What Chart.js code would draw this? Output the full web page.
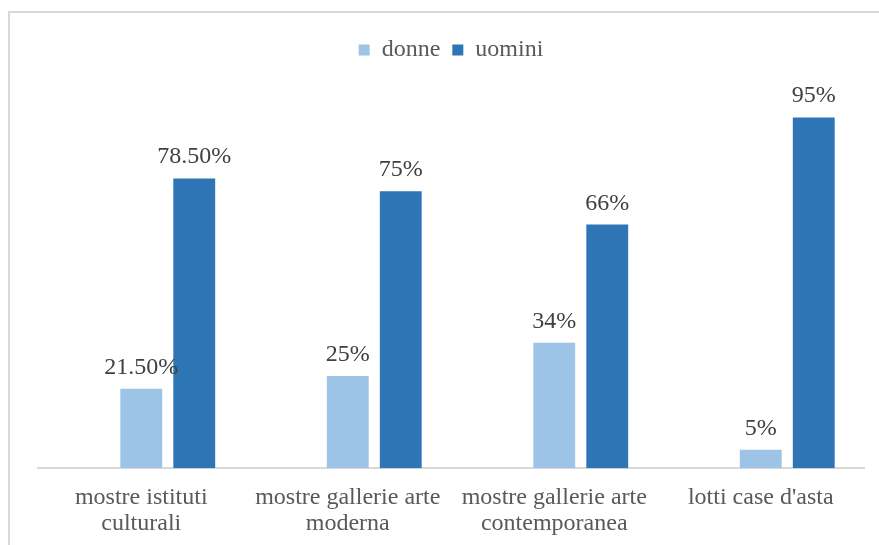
<!DOCTYPE html>
<html>
<head>
<meta charset="utf-8">
<script src="https://cdn.jsdelivr.net/npm/chart.js@4/dist/chart.umd.min.js"></script>
<style>
  html, body { margin: 0; padding: 0; background: #ffffff; }
  #wrap { position: relative; width: 879px; height: 545px; }
</style>
</head>
<body>
<div id="wrap"><canvas id="chart" width="879" height="545"></canvas></div>
<script>
// Categories (each label split over two lines where needed)
const categories = [
  ['mostre istituti', 'culturali'],
  ['mostre gallerie arte', 'moderna'],
  ['mostre gallerie arte', 'contemporanea'],
  ["lotti case d'asta"]
];
// Share of women and men, in percent
const donne = [21.5, 25, 34, 5];
const uomini = [78.5, 75, 66, 95];
// Empty leading series that keeps its slot in each group
const spacer = [null, null, null, null];

const FONT = "'Liberation Serif', 'Times New Roman', serif";
const FONT_SIZE = 24;

function pctLabel(v) {
  return Number.isInteger(v) ? v + '%' : v.toFixed(2) + '%';
}

// Frame lines along the top and left edge
const framePlugin = {
  id: 'frame',
  beforeInit(chart) {
    // leave extra room between the legend and the plot
    const legend = chart.legend;
    if (legend) {
      const fit = legend.fit;
      legend.fit = function () {
        fit.call(this);
        this.height += 27;
      };
    }
  },
  beforeDraw(chart) {
    const ctx = chart.ctx;
    ctx.save();
    ctx.fillStyle = '#ffffff';
    ctx.fillRect(0, 0, chart.width, chart.height);
    ctx.fillStyle = '#d9d9d9';
    ctx.fillRect(8, 11, chart.width - 8, 2);
    ctx.fillRect(8, 11, 2, chart.height - 11);
    ctx.restore();
  }
};

// Value labels above each bar
const valueLabels = {
  id: 'valueLabels',
  afterDatasetsDraw(chart) {
    const ctx = chart.ctx;
    ctx.save();
    ctx.font = FONT_SIZE + 'px ' + FONT;
    ctx.fillStyle = '#404040';
    ctx.textAlign = 'center';
    ctx.textBaseline = 'alphabetic';
    chart.data.datasets.forEach((ds, di) => {
      if (!ds.label) return;
      const meta = chart.getDatasetMeta(di);
      meta.data.forEach((bar, i) => {
        const v = ds.data[i];
        if (v == null) return;
        ctx.fillText(pctLabel(v), bar.x, bar.y - 15);
      });
    });
    ctx.restore();
  }
};

new Chart(document.getElementById('chart'), {
  type: 'bar',
  data: {
    labels: categories,
    datasets: [
      { label: '', data: spacer, backgroundColor: 'rgba(0,0,0,0)' },
      { label: 'donne', data: donne, backgroundColor: '#9dc3e6' },
      { label: 'uomini', data: uomini, backgroundColor: '#2e75b6' }
    ]
  },
  options: {
    responsive: false,
    animation: false,
    devicePixelRatio: 1,
    categoryPercentage: 0.77,
    barPercentage: 0.79,
    layout: { padding: { left: 38, right: 15, top: 26, bottom: 6 } },
    plugins: {
      legend: {
        position: 'top',
        labels: {
          filter: item => item.text !== '',
          boxWidth: 11,
          boxHeight: 11,
          padding: 12,
          color: '#595959',
          font: { family: FONT, size: FONT_SIZE }
        }
      },
      tooltip: { enabled: false }
    },
    scales: {
      x: {
        grid: { display: false, drawTicks: false },
        border: { display: true, color: '#d9d9d9', width: 2 },
        afterFit(scale) { scale.height -= 14; },
        ticks: {
          color: '#595959',
          padding: 16,
          maxRotation: 0,
          autoSkip: false,
          font: { family: FONT, size: FONT_SIZE, lineHeight: 1.1 }
        }
      },
      y: {
        display: false,
        min: 0,
        max: 100
      }
    }
  },
  plugins: [framePlugin, valueLabels]
});
</script>
</body>
</html>
